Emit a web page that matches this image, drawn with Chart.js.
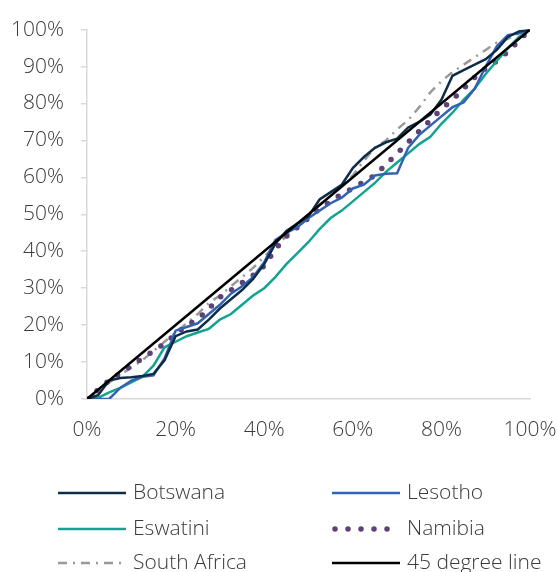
<!DOCTYPE html>
<html>
<head>
<meta charset="utf-8">
<script src="https://cdn.jsdelivr.net/npm/chart.js@4/dist/chart.umd.min.js"></script>
<style>
  html, body { margin: 0; padding: 0; background: #fff; }
  #wrap { width: 557px; height: 572px; position: relative; }
</style>
</head>
<body>
<div id="wrap"><canvas id="chart"></canvas></div>
<script>
// cumulative share of population (x, %) and cumulative share of spending (y, %)
const shares = [0, 2.5, 5, 7.5, 10, 12.5, 15, 17.5, 20, 22.5, 25, 27.5, 30, 32.5, 35, 37.5, 40, 42.5, 45, 47.5,
                50, 52.5, 55, 57.5, 60, 62.5, 65, 67.5, 70, 72.5, 75, 77.5, 80, 82.5, 85, 87.5, 90, 92.5, 95, 97.5, 100];

const botswana = [0, 1, 5, 5.7, 5.9, 6.2, 6.8, 10.5, 17, 18.3, 18.8, 21.5, 24.5, 27, 29.5, 32.5, 36.5, 42, 45.5, 47.5,
                  49.5, 54, 56, 58, 62.5, 65.5, 68, 69.5, 70.5, 73.5, 75, 77, 81, 87.5, 89, 90.5, 92, 94.5, 98, 99.5, 100];

const lesotho = [0, 0, 0, 3, 5, 6, 6.4, 11, 18.5, 19.5, 20.5, 23, 25.5, 28.5, 30.5, 33, 37, 43, 45, 46.5,
                 49, 51, 53, 54.5, 57, 58, 60.5, 61, 61.1, 68, 71.5, 74, 76.5, 79, 80.3, 84, 90, 95.5, 98.5, 99, 100];

const eswatini = [0, 0.3, 1.8, 3, 4.5, 6, 9, 14, 15.5, 17, 18, 19, 21.5, 23, 25.5, 28, 30, 33, 36.5, 39.5,
                  42.5, 46, 49, 51, 53.5, 56, 58.5, 61.5, 64, 66.5, 69, 71, 74.5, 77.5, 81, 84, 88, 91.5, 95, 98, 100];

const namibia = [0, 2.5, 5, 7, 9, 11, 13, 15, 17.5, 20, 21.5, 24.5, 27.5, 29.5, 31.5, 33.5, 36, 40.5, 44, 46.5,
                 49, 51.5, 53.5, 55.5, 57, 58.8, 60.5, 63.5, 66.5, 69.5, 72.5, 75.5, 78.5, 81, 84, 87, 89.5, 91.5, 94, 97, 100];

const southAfrica = [0, 2, 4.5, 6.5, 8.5, 10.5, 13, 15.5, 18, 20.5, 23, 26, 28, 30.5, 33, 35.5, 38.5, 41.5, 44, 47,
                     50, 52.5, 55, 58, 60.5, 64.5, 68, 70, 73, 75.5, 79, 83, 86, 88.5, 90.5, 92.5, 94.5, 96.5, 97.5, 99, 100];

const equality = [0, 100];
const equalityX = [0, 100];

const yTicks = [0, 10, 20, 30, 40, 50, 60, 70, 80, 90, 100];

const FONT = "'Open Sans', 'Noto Sans', sans-serif";
const FONT_SIZE = 21;
const TEXT = '#3b3b3b';
const AXIS = '#d9d9d9';

function pts(ys, xs) {
    xs = xs || shares;
    return ys.map((y, i) => ({ x: xs[i], y: y }));
}

// legend drawn in two columns under the plot, like the original
const gridLegend = {
    id: 'gridLegend',
    afterDraw(chart) {
        const ctx = chart.ctx;
        const colX = [58, 332];
        const rowY = [493, 529, 563];
        chart.data.datasets.forEach((ds, i) => {
            const x0 = colX[i % 2];
            const y = rowY[Math.floor(i / 2)];
            const round = ds.borderCapStyle === 'round';
            ctx.save();
            ctx.strokeStyle = ds.borderColor;
            ctx.lineWidth = ds.borderWidth;
            ctx.lineCap = ds.borderCapStyle || 'butt';
            ctx.setLineDash(ds.borderDash || []);
            ctx.beginPath();
            ctx.moveTo(x0 + (round ? 3 : 0), y);
            ctx.lineTo(x0 + 68, y);
            ctx.stroke();
            ctx.restore();
            ctx.save();
            ctx.fillStyle = TEXT;
            ctx.font = '300 ' + FONT_SIZE + 'px ' + FONT;
            ctx.textBaseline = 'middle';
            ctx.fillText(ds.label, x0 + 75, y);
            ctx.restore();
        });
    }
};

new Chart(document.getElementById('chart'), {
    type: 'line',
    data: {
        datasets: [
            { label: 'Botswana', data: pts(botswana), borderColor: '#102d48', borderWidth: 2.5 },
            { label: 'Lesotho', data: pts(lesotho), borderColor: '#3362b4', borderWidth: 2.5 },
            { label: 'Eswatini', data: pts(eswatini), borderColor: '#14a392', borderWidth: 2.5 },
            { label: 'Namibia', data: pts(namibia), borderColor: '#5d4275', borderWidth: 5.5,
              borderDash: [0, 13], borderCapStyle: 'round' },
            { label: 'South Africa', data: pts(southAfrica), borderColor: '#999999', borderWidth: 2.5,
              borderDash: [9, 6, 2, 6] },
            { label: '45 degree line', data: pts(equality, equalityX), borderColor: '#000000', borderWidth: 2.5,
              order: -1 }
        ]
    },
    options: {
        responsive: true,
        maintainAspectRatio: false,
        animation: false,
        layout: { padding: { left: 0, right: 27, top: 22, bottom: 128 } },
        elements: { point: { radius: 0 }, line: { tension: 0 } },
        plugins: { legend: { display: false }, tooltip: { enabled: false } },
        scales: {
            x: {
                type: 'linear', min: 0, max: 100,
                grid: { display: false, drawTicks: false },
                border: { display: true, color: AXIS, width: 1.5 },
                ticks: { stepSize: 20, padding: 18, color: TEXT,
                         font: { family: FONT, size: FONT_SIZE, weight: '300' },
                         callback: v => v + '%' },
                afterFit: s => { s.height = 45; s.paddingLeft = 0; s.paddingRight = 0; }
            },
            y: {
                min: 0, max: 100,
                grid: { display: true, drawOnChartArea: false, drawTicks: true, tickLength: 6, color: AXIS, lineWidth: 1.5 },
                border: { display: true, color: AXIS, width: 1.5 },
                ticks: { stepSize: 10, padding: 17, color: TEXT,
                         font: { family: FONT, size: FONT_SIZE, weight: '300' },
                         callback: v => yTicks.includes(v) ? v + '%' : '' },
                afterFit: s => { s.width = 87; }
            }
        }
    },
    plugins: [gridLegend]
});
</script>
</body>
</html>
